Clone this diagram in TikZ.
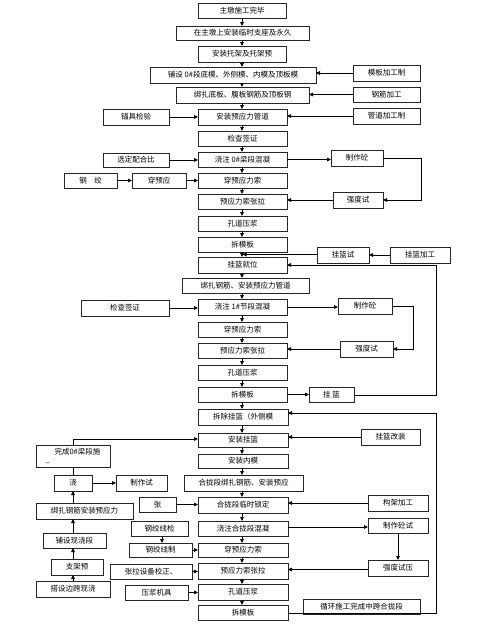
\documentclass[tikz,border=0pt]{standalone}
\usepackage{fontspec}
\setmainfont{Noto Sans CJK SC}
\usetikzlibrary{arrows.meta}
\tikzset{
  bx/.style={draw=black!85, line width=1pt, inner sep=0pt, outer sep=0pt, fill=white,
    font=\fontsize{7.5}{9}\selectfont},
  arr/.style={draw=black, line width=0.7pt, -{Triangle[length=4pt,width=3.6pt]}},
  ln/.style={draw=black, line width=0.7pt}
}
\newcommand\bx[6]{\node[bx, minimum width={(#4-#2)*1pt}, minimum height={(#5-#3)*1pt}] (#1) at ({(#2+#4)/2},{(#3+#5)/2}) {#6};}
\begin{document}
\begin{tikzpicture}[x=1pt,y=-1pt]
\useasboundingbox (0,0) rectangle (496,633);
% main column
\bx{m1}{198}{3}{286}{18}{主墩施工完毕}
\bx{m2}{176}{26}{309}{40}{在主墩上安装临时支座及永久}
\bx{m3}{198}{46}{286}{62}{安装托架及托架预}
\bx{m4}{150}{67}{316}{83}{铺设 0\#段底模、外侧模、内模及顶板模}
\bx{m5}{176}{87}{309}{103}{绑扎底板、腹板钢筋及顶板钢}
\bx{m6}{198}{109}{287}{125}{安装预应力管道}
\bx{m7}{198}{131}{287}{146}{检查签证}
\bx{m8}{198}{152}{287}{167}{浇注 0\#梁段混凝}
\bx{m9}{198}{173}{287}{188}{穿预应力索}
\bx{m10}{198}{194}{287}{209}{预应力索张拉}
\bx{m11}{198}{216}{287}{231}{孔道压浆}
\bx{m12}{198}{237}{287}{252}{拆模板}
\bx{m13}{198}{257}{287}{273}{挂篮就位}
\bx{m14}{182}{278}{309}{293}{绑扎钢筋、安装预应力管道}
\bx{m15}{198}{299}{287}{315}{浇注 1\#节段混凝}
\bx{m16}{198}{322}{287}{337}{穿预应力索}
\bx{m17}{198}{343}{287}{358}{预应力索张拉}
\bx{m18}{198}{365}{287}{380}{孔道压浆}
\bx{m19}{198}{387}{287}{402}{拆模板}
\bx{m20}{198}{409}{288}{425}{拆除挂篮（外侧模}
\bx{m21}{198}{433}{288}{447}{安装挂篮}
\bx{m22}{198}{454}{288}{468}{安装内模}
\bx{m23}{184}{475}{303}{491}{合拢段绑扎钢筋、安装预应}
\bx{m24}{198}{497}{288}{513}{合拢段临时锁定}
\bx{m25}{198}{521}{288}{536}{浇注合拢段混凝}
\bx{m26}{198}{543}{288}{557}{穿预应力索}
\bx{m27}{198}{563}{288}{579}{预应力索张拉}
\bx{m28}{198}{584}{288}{600}{孔道压浆}
\bx{m29}{198}{605}{288}{620}{拆模板}
% right side
\bx{r1}{353}{65}{420}{81}{模板加工制}
\bx{r2}{353}{87}{420}{102}{钢筋加工}
\bx{r3}{353}{108}{420}{124}{管道加工制}
\bx{r4}{331}{150}{383}{166}{制作砼}
\bx{r5}{333}{192}{383}{208}{强度试}
\bx{r6}{317}{247}{369}{263}{挂篮试}
\bx{r7}{390}{247}{450}{263}{挂篮加工}
\bx{r8}{338}{298}{392}{314}{制作砼}
\bx{r9}{340}{341}{393}{357}{强度试}
\bx{r10}{309}{387}{354}{402}{挂 篮}
\bx{r11}{361}{429}{420}{445}{挂篮改装}
\bx{r12}{368}{495}{428}{511}{构架加工}
\bx{r13}{368}{518}{428}{533}{制作砼试}
\bx{r14}{368}{560}{428}{576}{强度试压}
\bx{r15}{303}{599}{420}{614}{循环施工完成中跨合拢段}
% left side
\bx{l1}{103}{109}{169}{125}{锚具检验}
\bx{l2}{103}{153}{169}{167}{选定配合比}
\bx{l3}{64}{173}{117}{188}{钢\quad 绞}
\bx{l4}{132}{173}{186}{188}{穿预应}
\bx{l5}{81}{300}{169}{316}{检查签证}
\node[bx, minimum width=74pt, minimum height=22pt, align=left] (l6) at (73,456) {\hspace*{1.2em}完成0\#梁段施\\[-1pt]\_};
\bx{l7}{54}{475}{92}{491}{浇}
\bx{l8}{116}{475}{167}{491}{制作试}
\bx{l9}{139}{497}{176}{512}{张}
\bx{l10}{36}{503}{133}{519}{绑扎钢筋安装预应力}
\bx{l11}{131}{521}{188}{536}{钢绞线检}
\bx{l12}{129}{543}{192}{557}{钢绞线制}
\bx{l13}{43}{533}{106}{548}{铺设现浇段}
\bx{l14}{110}{564}{192}{579}{张拉设备校正、}
\bx{l15}{51}{559}{103}{575}{支架预}
\bx{l16}{125}{585}{188}{600}{压浆机具}
\bx{l17}{36}{581}{110}{597}{搭设边跨现浇}
% main chain
\foreach \a/\b in {m1/m2,m2/m3,m3/m4,m4/m5,m5/m6,m6/m7,m7/m8,m8/m9,m9/m10,m10/m11,m11/m12,m12/m13,m13/m14,m14/m15,m15/m16,m16/m17,m17/m18,m18/m19,m19/m20,m20/m21,m21/m22,m22/m23,m23/m24,m24/m25,m25/m26,m26/m27,m27/m28,m28/m29}
  \draw[arr] (\a.south -| m1.south) -- (\b.north -| m1.south);
% right connections
\draw[arr] (r1.west) -- (r1.west -| m4.east);
\draw[arr] (r2.west) -- (r2.west -| m5.east);
\draw[arr] (r3.west) -- (r3.west -| m6.east);
\draw[arr] (m8.east) -- (m8.east -| r4.west);
\coordinate (c1) at (421,158);
\draw[arr] (r4.east |- c1) -- (c1) -- (c1 |- r5.east) -- (r5.east);
\draw[arr] (r5.west) -- (r5.west -| m10.east);
\draw[arr] (r7.west) -- (r6.east);
\coordinate (c2) at (242.5,254.5);
\draw[arr] (r6.west |- c2) -- (c2);
\draw[arr] (m15.east) -- (m15.east -| r8.west);
\coordinate (c3) at (413,306);
\draw[arr] (r8.east |- c3) -- (c3) -- (c3 |- r9.east) -- (r9.east);
\draw[arr] (r9.west) -- (r9.west -| m17.east);
\draw[arr] (m19.east) -- (m19.east -| r10.west);
\coordinate (c4) at (436,395);
\draw[arr] (r10.east |- c4) -- (c4) -- (c4 |- m13.east) -- (m13.east);
\draw[arr] (r11.west) -- (r11.west -| m21.east);
\coordinate (c5) at (436,613);
\coordinate (c6) at (436,413);
\draw[arr] (m29.east |- c5) -- (c5) -- (c6) -- (c6 -| m20.east);
\draw[arr] (r12.west) -- (r12.west -| m24.east);
\draw[arr] (m25.east |- 0,527) -- (r13.west |- 0,527);
\draw[arr] (r13.south -| 398,0) -- (r14.north -| 398,0);
\draw[arr] (r14.west |- 0,569.5) -- (m27.east |- 0,569.5);
% left connections
\draw[arr] (l1.east) -- (l1.east -| m6.west);
\draw[arr] (l2.east) -- (l2.east -| m8.west);
\draw[arr] (l3.east) -- (l4.west);
\draw[arr] (l4.east) -- (l4.east -| m9.west);
\draw[arr] (l5.east) -- (l5.east -| m15.west);
\coordinate (c7) at (73,439);
\draw[arr] (l6.north) -- (c7) -- (c7 -| m21.west);
\draw[ln] (l7.north) -- (l6.south);
\draw[arr] (l7.east) -- (l8.west);
\draw[arr] (l9.east) -- (l9.east -| m24.west);
\draw[arr] (l10.north -| l7.south) -- (l7.south);
\draw[arr] (l11.south -| 162,0) -- (l12.north -| 162,0);
\draw[arr] (l12.east) -- (l12.east -| m26.west);
\draw[arr] (l13.north -| l7.south) -- (l10.south -| l7.south);
\draw[arr] (l14.east) -- (l14.east -| m27.west);
\draw[arr] (l15.north -| l7.south) -- (l13.south -| l7.south);
\draw[arr] (l16.east) -- (l16.east -| m28.west);
\draw[arr] (l17.north -| l7.south) -- (l15.south -| l7.south);
\end{tikzpicture}
\end{document}
